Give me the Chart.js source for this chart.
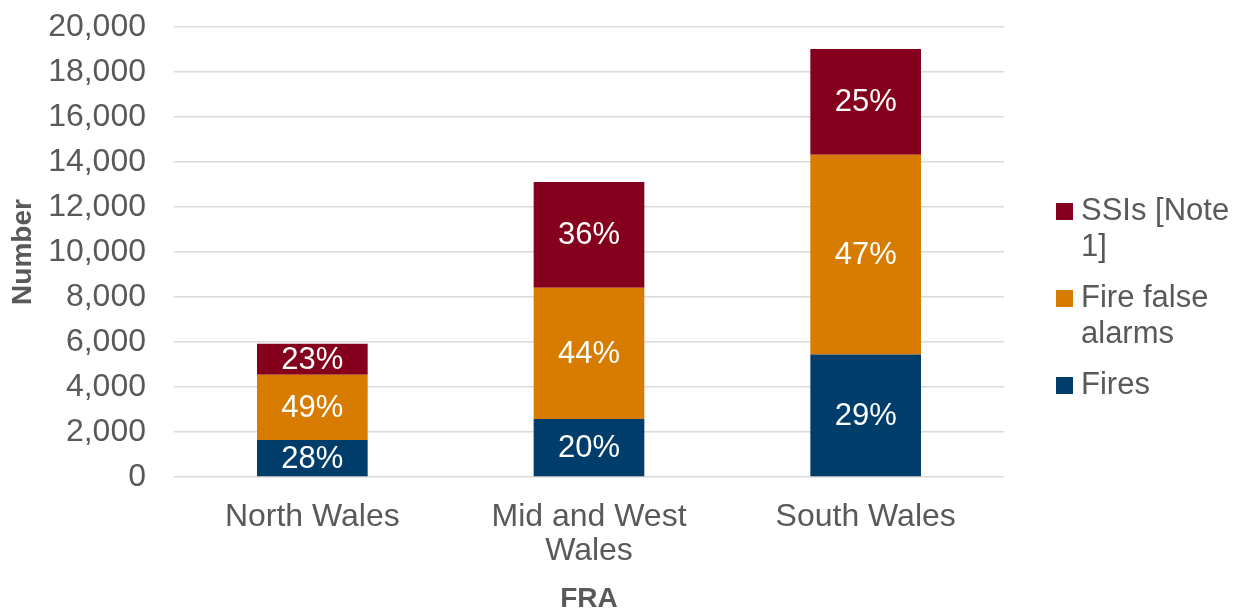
<!DOCTYPE html>
<html>
<head>
<meta charset="utf-8">
<script src="https://cdn.jsdelivr.net/npm/chart.js@4"></script>
<style>
  body { margin: 0; background: #fff; font-family: "Liberation Sans", Arial, sans-serif; }
  #wrap { position: relative; width: 1234px; height: 609px; }
  #legend { position: absolute; left: 1056px; top: 192px; color: #595959; font-size: 31px; line-height: 36px; }
  .item { display: flex; align-items: flex-start; margin-bottom: 15px; }
  .box { width: 17px; height: 17px; margin-top: 11px; margin-right: 8px; flex: none; }
  .txt { width: 152px; }
</style>
</head>
<body>
<div id="wrap">
  <canvas id="chart" width="1234" height="609"></canvas>
  <div id="legend"></div>
</div>
<script>
const categoryLines = [['North Wales'], ['Mid and West', 'Wales'], ['South Wales']];
const fires = [1650, 2580, 5440];
const falseAlarms = [2900, 5830, 8880];
const ssis = [1370, 4700, 4700];
const yTicks = [0, 2000, 4000, 6000, 8000, 10000, 12000, 14000, 16000, 18000, 20000];

const textColor = '#595959';
const fontFamily = '"Liberation Sans", Arial, sans-serif';

const totals = fires.map((v, i) => v + falseAlarms[i] + ssis[i]);

// percentages written in the middle of each segment
const percentLabels = {
    id: 'percentLabels',
    afterDatasetsDraw(chart) {
        const ctx = chart.ctx;
        ctx.save();
        ctx.fillStyle = '#ffffff';
        ctx.font = '31px ' + fontFamily;
        ctx.textAlign = 'center';
        ctx.textBaseline = 'middle';
        chart.data.datasets.forEach((ds, di) => {
            const meta = chart.getDatasetMeta(di);
            meta.data.forEach((bar, i) => {
                const p = bar.getProps(['x', 'y', 'base'], true);
                const pct = Math.round(ds.data[i] / totals[i] * 100) + '%';
                ctx.fillText(pct, p.x, (p.y + p.base) / 2 + 1);
            });
        });
        ctx.restore();
    }
};

const chart = new Chart(document.getElementById('chart'), {
    type: 'bar',
    data: {
        labels: categoryLines,
        datasets: [
            { label: 'Fires', data: fires, backgroundColor: '#003D6B' },
            { label: 'Fire false alarms', data: falseAlarms, backgroundColor: '#D77C00' },
            { label: 'SSIs [Note 1]', data: ssis, backgroundColor: '#85001C' }
        ]
    },
    options: {
        responsive: false,
        animation: false,
        layout: { padding: { top: 27, right: 230, left: 0, bottom: 0 } },
        datasets: { bar: { barPercentage: 0.4, categoryPercentage: 1.0 } },
        plugins: {
            legend: { display: false },
            tooltip: { enabled: false }
        },
        scales: {
            x: {
                stacked: true,
                grid: { display: false },
                border: { display: false },
                ticks: { color: textColor, font: { family: fontFamily, size: 32, lineHeight: 1.07 }, padding: 15, maxRotation: 0 },
                title: {
                    display: true, text: 'FRA', color: textColor,
                    font: { family: fontFamily, size: 28, weight: 'bold', lineHeight: 1 },
                    padding: { top: 0, bottom: -4 }
                },
                afterFit(s) { s.height = 132; }
            },
            y: {
                stacked: true,
                min: 0,
                max: 20000,
                afterBuildTicks(s) { s.ticks = yTicks.map(v => ({ value: v })); },
                ticks: {
                    color: textColor, font: { family: fontFamily, size: 32 }, padding: 28,
                    callback: v => v.toLocaleString('en-GB')
                },
                grid: { color: '#d9d9d9', lineWidth: 1.5, drawTicks: false },
                border: { display: false },
                title: {
                    display: true, text: 'Number', color: textColor,
                    font: { family: fontFamily, size: 28, weight: 'bold', lineHeight: 1 },
                    padding: { top: 9, bottom: 0 }
                },
                afterFit(s) {
                    s.width = 174;
                    s.paddingTop = 0;
                    s.paddingBottom = 0;
                }
            }
        }
    },
    plugins: [percentLabels]
});

// legend, top item is the top of the stack
const legend = document.getElementById('legend');
chart.data.datasets.slice().reverse().forEach(ds => {
    const item = document.createElement('div');
    item.className = 'item';
    const box = document.createElement('div');
    box.className = 'box';
    box.style.background = ds.backgroundColor;
    const txt = document.createElement('div');
    txt.className = 'txt';
    txt.textContent = ds.label;
    item.appendChild(box);
    item.appendChild(txt);
    legend.appendChild(item);
});
</script>
</body>
</html>
